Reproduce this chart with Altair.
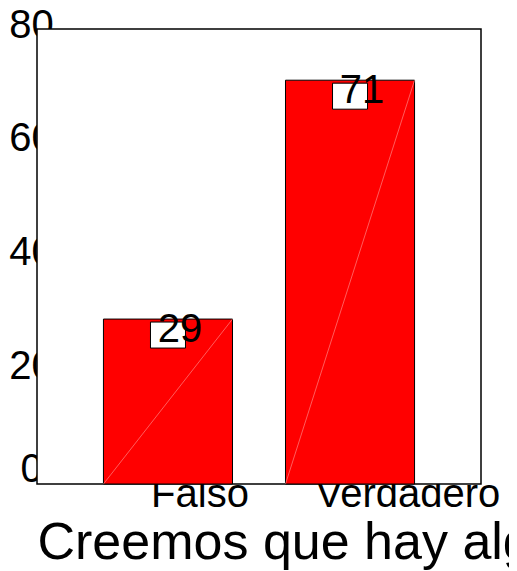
import altair as alt
import pandas as pd

categories = ["Falso", "Verdadero"]
values = [29, 71]
y_ticks = [0, 20, 40, 60, 80]
axis_title = "Creemos que hay algo más"

W, H = 444, 455
FONT = "Liberation Sans"

df = pd.DataFrame({"cat": categories, "val": values})

xscale = alt.Scale(domain=categories, paddingInner=0.291, paddingOuter=0.365)
yscale = alt.Scale(domain=[0, 80], nice=False, zero=True)

x_axis = alt.Axis(
    title=axis_title, titleFont=FONT, titleFontSize=52, titleFontWeight="normal",
    titleColor="black", titleAlign="left", titleAnchor="start", titleBaseline="alphabetic",
    titleX=0, titleY=74, titleLimit=2000,
    labelFont=FONT, labelFontSize=40, labelColor="black", labelAngle=0, labelLimit=0,
    labelPadding=-10, labelOverlap=False, labelBound=False,
    labelOffset={"condition": {"test": "datum.value == 'Falso'", "value": 32}, "value": 58},
    ticks=False, domain=False, grid=False,
)
y_axis = alt.Axis(
    title=None, values=y_ticks, labelFont=FONT, labelFontSize=40, labelColor="black",
    labelAlign="center", labelBaseline="middle", labelPadding=6, labelFlush=False,
    labelOverlap=False, labelBound=False,
    labelOffset={"condition": {"test": "datum.value == 0", "value": -15}, "value": -4},
    ticks=False, domain=False, grid=False,
)

base = alt.Chart(df)

frame = alt.Chart(alt.Data(values=[{}])).mark_rect(
    fill="white", stroke="black", strokeWidth=1.5
).encode(x=alt.value(0), x2=alt.value(W), y=alt.value(0), y2=alt.value(H))

bars = base.mark_bar(color="#ff0000", stroke="black", strokeWidth=1).encode(
    x=alt.X("cat:N", scale=xscale, axis=x_axis, sort=categories),
    y=alt.Y("val:Q", scale=yscale, axis=y_axis),
)

diag = base.mark_rule(color="#ff9a9a", strokeWidth=0.6).encode(
    x=alt.X("cat:N", scale=xscale, bandPosition=1, sort=categories),
    x2=alt.X2("cat", bandPosition=0),
    y=alt.Y("val:Q", scale=yscale),
    y2=alt.datum(0),
)

boxes = base.mark_point(
    shape="M-1,0.171L1,0.171L1,1.657L-1,1.657Z",
    size=1225, filled=True, fill="white", stroke="black", strokeWidth=1, opacity=1,
).encode(
    x=alt.X("cat:N", scale=xscale, sort=categories),
    y=alt.Y("val:Q", scale=yscale),
)

labels = base.mark_text(
    font=FONT, fontSize=40, color="black", align="center", baseline="middle", dx=12, dy=11
).encode(
    x=alt.X("cat:N", scale=xscale, sort=categories),
    y=alt.Y("val:Q", scale=yscale),
    text=alt.Text("val:Q"),
)

chart = alt.layer(frame, bars, diag, boxes, labels).properties(
    width=W, height=H,
    autosize=alt.AutoSizeParams(type="none"),
    padding={"left": 29, "top": 21, "right": 28, "bottom": 87},
    background="white",
).configure_view(stroke=None)

chart.save("out.html", embed_options={"renderer": "svg", "actions": False})
